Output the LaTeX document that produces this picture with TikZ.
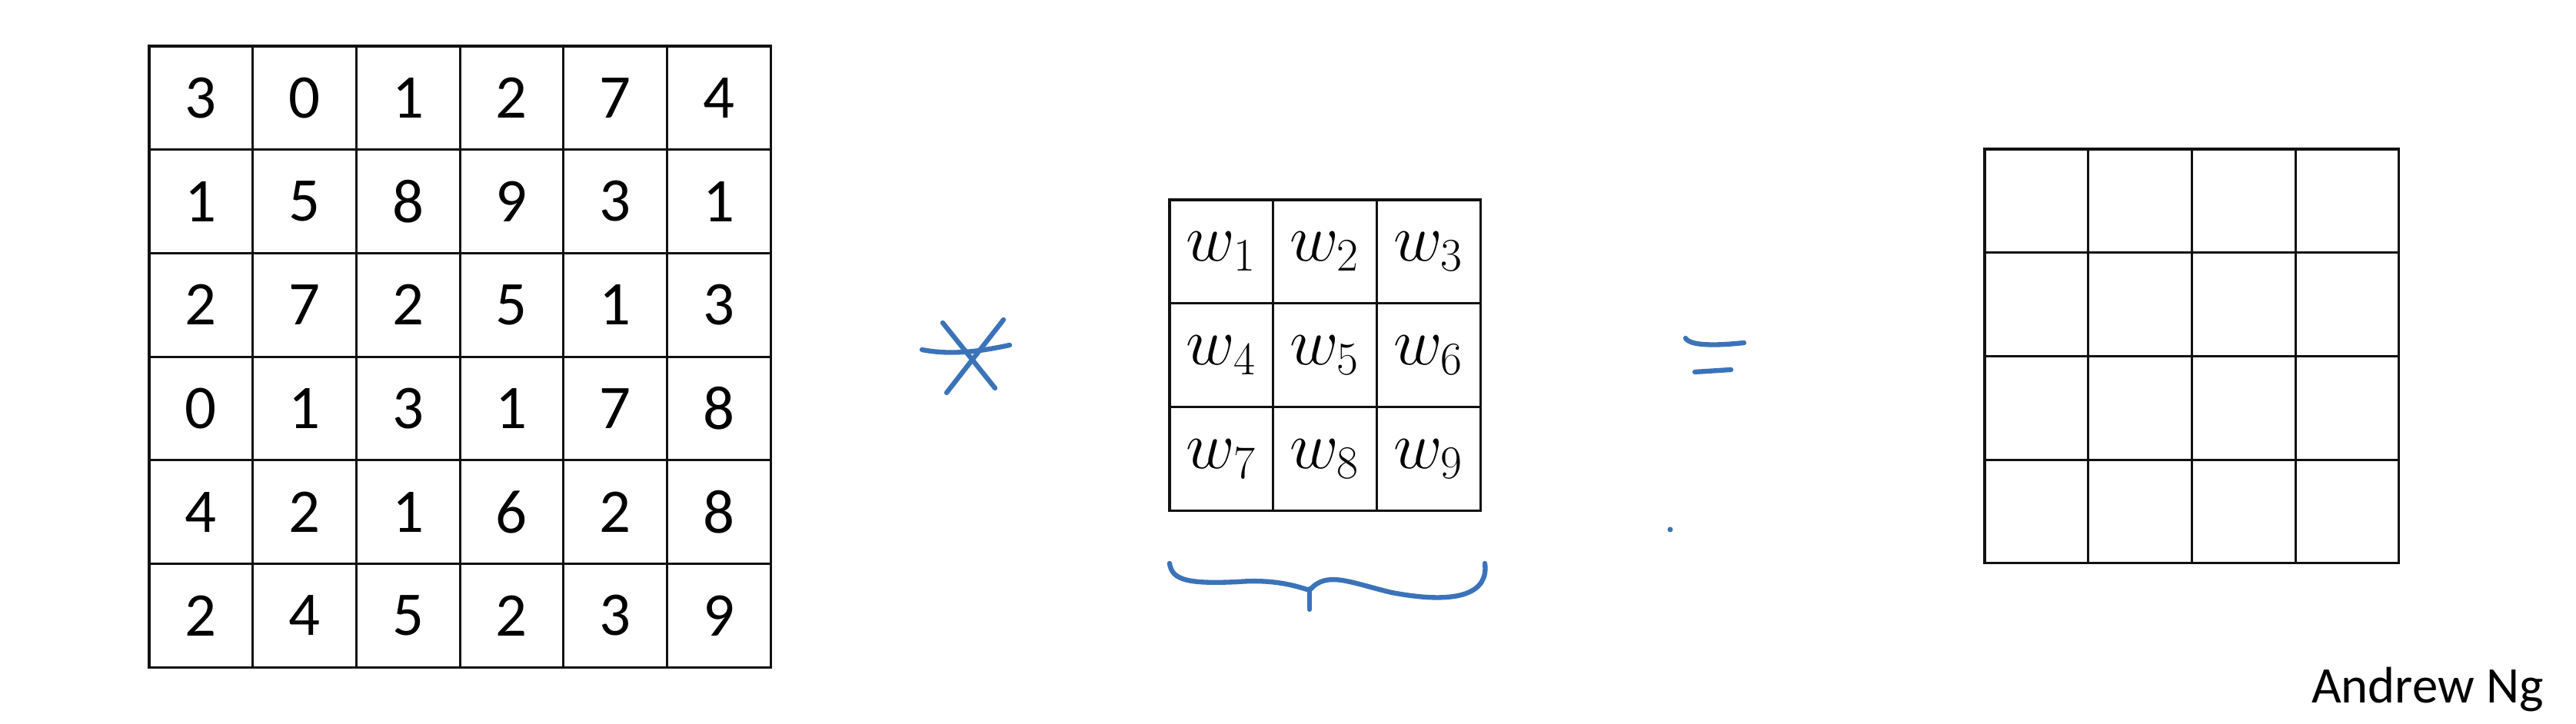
\documentclass[tikz,border=0pt]{standalone}
\usepackage{fontspec}
\setmainfont{Carlito}
\usepackage{tikz}
\usetikzlibrary{positioning,calc}
\usepackage{xcolor}
\definecolor{Ink}{HTML}{3B73B9}
\definecolor{Grid}{HTML}{111111}
\tikzset{
  cell/.style={draw=Grid, line width=0.9pt, minimum size=1.347cm, inner sep=0pt, font=\fontsize{23}{27}\selectfont},
  wcell/.style={cell, font=\fontsize{25}{29}\selectfont},
  outcell/.style={cell},
  pen/.style={draw=Ink, line width=1.8pt, line cap=round, line join=round},
  sign/.style={anchor=base east, font=\fontsize{19}{23}\selectfont}
}
\begin{document}
\begin{tikzpicture}
\fill[white] (0,0) rectangle (33.5,-9.42);
\useasboundingbox (0,0) rectangle (33.5,-9.42);
% 6x6 image
\foreach \row [count=\i] in {{3,0,1,2,7,4},{1,5,8,9,3,1},{2,7,2,5,1,3},{0,1,3,1,7,8},{4,2,1,6,2,8},{2,4,5,2,3,9}}{
  \foreach \v [count=\j] in \row {
    \node[cell] (img-\i-\j) at ({1.94+(\j-0.5)*1.347},{-0.60-(\i-0.5)*1.347}) {\v};
  }
}
% star
\draw[pen] (11.99,-4.55) .. controls (12.4,-4.63) and (12.8,-4.56) .. (13.13,-4.49);
\draw[pen] (12.26,-4.20) -- (12.94,-5.05);
\draw[pen] (13.05,-4.16) -- (12.31,-5.11);
% 3x3 filter
\foreach \i in {1,2,3}{
  \foreach \j in {1,2,3}{
    \pgfmathtruncatemacro\k{(\i-1)*3+\j}
    \node[wcell] (flt-\i-\j) at ({15.21+(\j-0.5)*1.347},{-2.60-(\i-0.5)*1.347}) {$w_{\k}$};
  }
}
% brace under filter
\draw[pen] (15.21,-7.33) .. controls (15.24,-7.55) and (15.45,-7.60) .. (16.10,-7.57)
  .. controls (16.60,-7.53) and (16.90,-7.64) .. (17.03,-7.68)
  .. controls (17.25,-7.42) and (17.55,-7.58) .. (18.10,-7.71)
  .. controls (19.00,-7.88) and (19.36,-7.70) .. (19.31,-7.33);
\draw[pen] (17.03,-7.66) -- (17.03,-7.93);
% equals
\draw[pen] (21.92,-4.40) .. controls (21.98,-4.50) and (22.30,-4.50) .. (22.68,-4.46);
\draw[pen] (22.04,-4.84) -- (22.51,-4.81);
\fill[Ink] (21.72,-6.89) circle (0.035);
% 4x4 output
\foreach \i in {1,...,4}{
  \foreach \j in {1,...,4}{
    \node[outcell] (out-\i-\j) at ({25.81+(\j-0.5)*1.347},{-1.94-(\i-0.5)*1.347}) {};
  }
}
\node[sign] (author) at (33.20,-9.15) {Andrew Ng};
\end{tikzpicture}
\end{document}
